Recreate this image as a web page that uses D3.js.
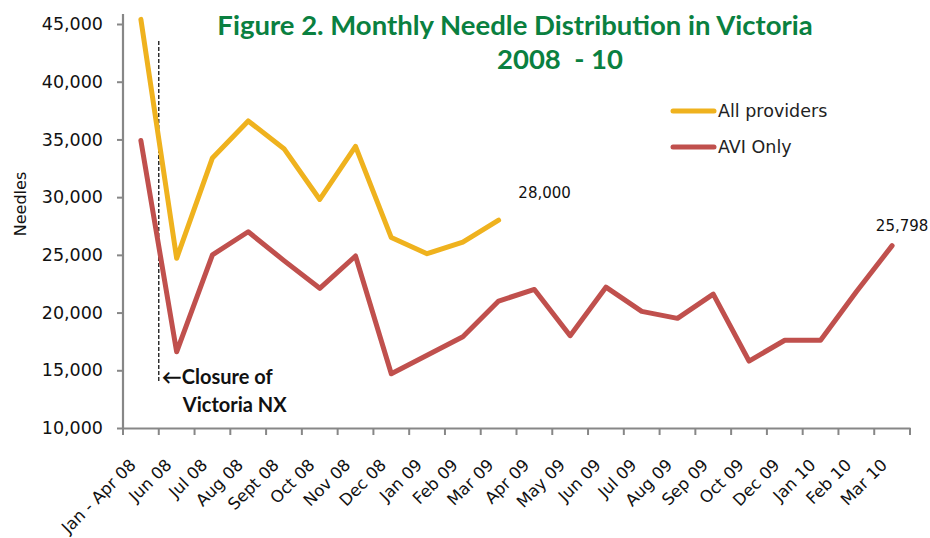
<!DOCTYPE html>
<html>
<head>
<meta charset="utf-8">
<script src="https://cdn.jsdelivr.net/npm/d3@7"></script>
<style>
  body { margin: 0; background: #fff; }
  svg { display: block; }
</style>
</head>
<body>
<div id="chart"></div>
<script>
const width = 930;
const height = 538;

// data
const months = ["Jan - Apr 08", "Jun 08", "Jul 08", "Aug 08", "Sept 08", "Oct 08", "Nov 08",
  "Dec 08", "Jan 09", "Feb 09", "Mar 09", "Apr 09", "May 09", "Jun 09", "Jul 09", "Aug 09",
  "Sep 09", "Oct 09", "Dec 09", "Jan 10", "Feb 10", "Mar 10"];
const allProviders = [45400, 24700, 33400, 36600, 34200, 29800, 34400, 26500, 25100, 26100, 28000];
const aviOnly = [34900, 16600, 25000, 27000, 24500, 22100, 24900, 14700, 16300, 17900, 21000,
  22000, 18000, 22200, 20100, 19500, 21600, 15800, 17600, 17600, 21800, 25798];
const yTicks = [10000, 15000, 20000, 25000, 30000, 35000, 40000, 45000];

const series = [
  {name: "All providers", values: allProviders, color: "#EFB21E"},
  {name: "AVI Only", values: aviOnly, color: "#C0504D"}
];

const margin = {left: 123, right: 20, top: 24, bottom: 110};

const svg = d3.select("#chart").append("svg")
  .attr("width", width)
  .attr("height", height);

const x = d3.scaleBand()
  .domain(months)
  .range([margin.left, 910]);

const y = d3.scaleLinear()
  .domain([10000, 45000])
  .range([428, 24]);

const fmt = d3.format(",");
const axisFont = "'DejaVu Sans', Verdana, sans-serif";

// y axis
const yAxis = svg.append("g")
  .attr("transform", `translate(${margin.left},0)`)
  .call(d3.axisLeft(y).tickValues(yTicks).tickFormat(fmt).tickSize(6).tickSizeOuter(0));
yAxis.select(".domain").attr("stroke", "#878787").attr("stroke-width", 2.2)
  .attr("d", `M0,${y(10000)}V14`);
yAxis.selectAll(".tick line").attr("stroke", "#878787").attr("stroke-width", 2);
yAxis.selectAll(".tick text")
  .attr("font-family", axisFont).attr("font-size", 17.5).attr("fill", "#111").attr("x", -20);

// x axis
const xAxis = svg.append("g")
  .attr("transform", `translate(0,${y(10000)})`)
  .call(d3.axisBottom(x).tickSize(0));
xAxis.select(".domain").attr("stroke", "#878787").attr("stroke-width", 2.2);
xAxis.selectAll(".tick line").remove();
xAxis.selectAll(".tick text")
  .attr("font-family", axisFont).attr("font-size", 16.5).attr("fill", "#111")
  .attr("text-anchor", "end")
  .attr("transform", "translate(-4,38) rotate(-45)")
  .attr("dy", 0).attr("y", 0);

// tick marks between categories
const boundaries = months.map((m) => x(m)).concat([x.range()[1]]);
xAxis.selectAll(".bnd")
  .data(boundaries)
  .join("line")
  .attr("class", "bnd")
  .attr("x1", d => d).attr("x2", d => d)
  .attr("y1", 0).attr("y2", 7)
  .attr("stroke", "#878787").attr("stroke-width", 2);

// y axis title
svg.append("text")
  .attr("transform", "translate(26,204) rotate(-90)")
  .attr("text-anchor", "middle")
  .attr("font-family", axisFont).attr("font-size", 16).attr("fill", "#111")
  .text("Needles");

// closure marker
const closureX = x("Jun 08");
svg.append("line")
  .attr("x1", closureX).attr("x2", closureX)
  .attr("y1", 41).attr("y2", 381)
  .attr("stroke", "#111").attr("stroke-width", 1.3)
  .attr("stroke-dasharray", "4,2");

const noteFont = "Lato, 'Open Sans', sans-serif";
svg.append("text")
  .attr("x", closureX + 3).attr("y", 384)
  .attr("font-family", noteFont).attr("font-weight", "bold").attr("font-size", 20)
  .attr("fill", "#111")
  .text("\u2190Closure of");
svg.append("text")
  .attr("x", closureX + 24).attr("y", 412)
  .attr("font-family", noteFont).attr("font-weight", "bold").attr("font-size", 20)
  .attr("fill", "#111")
  .text("Victoria NX");

// lines
const line = d3.line()
  .x((d, i) => x(months[i]) + x.bandwidth() / 2)
  .y(d => y(d))
  .curve(d3.curveLinear);

svg.selectAll(".series")
  .data(series)
  .join("path")
  .attr("class", "series")
  .attr("fill", "none")
  .attr("stroke", d => d.color)
  .attr("stroke-width", 5)
  .attr("stroke-linejoin", "round")
  .attr("stroke-linecap", "round")
  .attr("d", d => line(d.values));

// end value labels
const lastAll = allProviders.length - 1;
svg.append("text")
  .attr("x", x(months[lastAll]) + x.bandwidth() / 2 + 46)
  .attr("y", y(allProviders[lastAll]) - 22)
  .attr("text-anchor", "middle")
  .attr("font-family", axisFont).attr("font-size", 15).attr("fill", "#111")
  .text(fmt(allProviders[lastAll]));

const lastAvi = aviOnly.length - 1;
svg.append("text")
  .attr("x", x(months[lastAvi]) + x.bandwidth() / 2 + 10)
  .attr("y", y(aviOnly[lastAvi]) - 15)
  .attr("text-anchor", "middle")
  .attr("font-family", axisFont).attr("font-size", 15).attr("fill", "#111")
  .text(fmt(aviOnly[lastAvi]));

// legend
const legend = svg.append("g");
series.forEach((s, i) => {
  const ly = 111 + i * 36;
  legend.append("line")
    .attr("x1", 673).attr("x2", 714)
    .attr("y1", ly).attr("y2", ly)
    .attr("stroke", s.color).attr("stroke-width", 5).attr("stroke-linecap", "round");
  legend.append("text")
    .attr("x", 718).attr("y", ly)
    .attr("dy", "0.35em")
    .attr("font-family", axisFont).attr("font-size", 17.5).attr("fill", "#222")
    .text(s.name);
});

// title
const titleFont = "Lato, 'Open Sans', sans-serif";
svg.append("text")
  .attr("x", 515).attr("y", 35)
  .attr("text-anchor", "middle")
  .attr("font-family", titleFont).attr("font-weight", "bold").attr("font-size", 27.5)
  .attr("fill", "#0A8040")
  .text("Figure 2. Monthly Needle Distribution in Victoria");
svg.append("text")
  .attr("x", 560).attr("y", 69)
  .attr("text-anchor", "middle")
  .attr("font-family", titleFont).attr("font-weight", "bold").attr("font-size", 27.5)
  .attr("fill", "#0A8040")
  .attr("xml:space", "preserve")
  .text("2008  - 10");
</script>
</body>
</html>
